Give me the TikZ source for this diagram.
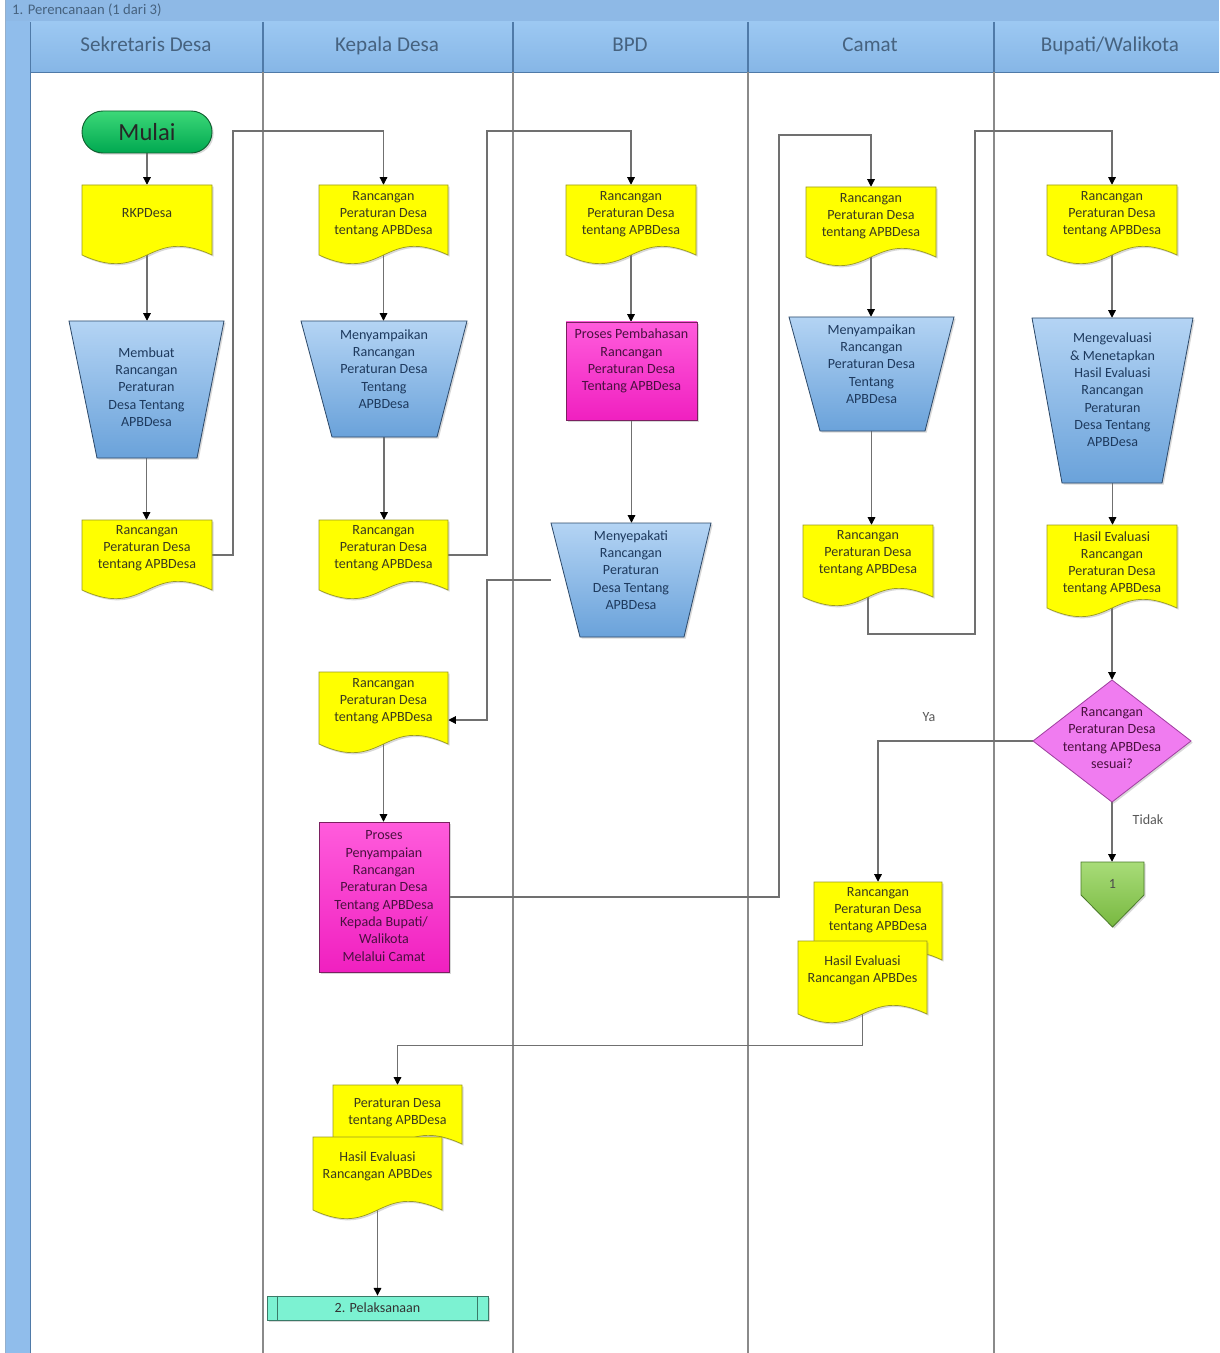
\documentclass[tikz,border=0pt]{standalone}
\usepackage{fontspec}
\setmainfont{Carlito}
\usetikzlibrary{arrows.meta,calc,fit,shadows}
\pgfdeclarelayer{back}
\pgfdeclarelayer{mid}
\pgfsetlayers{back,mid,main}
\definecolor{docyellow}{HTML}{FFFF00}
\definecolor{docedge}{HTML}{9A9A20}
\definecolor{doctext}{HTML}{3A3A20}
\definecolor{traptop}{HTML}{B4D4F4}
\definecolor{trapbot}{HTML}{6AA2DA}
\definecolor{trapedge}{HTML}{2E4A6A}
\definecolor{traptext}{HTML}{1E3A5E}
\definecolor{magtop}{HTML}{FF5CDC}
\definecolor{magbot}{HTML}{F020C0}
\definecolor{magedge}{HTML}{7A2060}
\definecolor{magtext}{HTML}{4A1040}
\definecolor{decfill}{HTML}{F07CF0}
\definecolor{decedge}{HTML}{A040A0}
\definecolor{gotop}{HTML}{3CD878}
\definecolor{gobot}{HTML}{00A850}
\definecolor{goedge}{HTML}{106030}
\definecolor{offtop}{HTML}{A8DC78}
\definecolor{offbot}{HTML}{78B840}
\definecolor{offedge}{HTML}{4A7A2A}
\definecolor{subfill}{HTML}{7CF2D2}
\definecolor{subedge}{HTML}{3A7A68}
\definecolor{linegray}{HTML}{707070}
\definecolor{lanegray}{HTML}{8A8A8A}
\definecolor{titleblue}{HTML}{8EB9E6}
\definecolor{stripblue}{HTML}{90BDEB}
\definecolor{hdrtop}{HTML}{9CC8F2}
\definecolor{hdrbot}{HTML}{86B6E6}
\definecolor{hdredge}{HTML}{4F7AA8}
\definecolor{hdrtext}{HTML}{46627F}
\tikzset{
  conn/.style={draw=linegray, line width=0.9pt},
  arr/.style={conn, -{Triangle[width=6.5pt,length=6.5pt,color=black]}},
  fitbox/.style={inner sep=0pt, draw=none},
  shade1/.style={drop shadow={shadow xshift=0.5mm, shadow yshift=-0.5mm, opacity=0.3}},
  docbox/.style={fill=docyellow, draw=docedge, line width=0.6pt, shade1},
  trapbox/.style={top color=traptop, bottom color=trapbot, draw=trapedge, line width=0.7pt, shade1},
  procbox/.style={top color=magtop, bottom color=magbot, draw=magedge, line width=0.7pt, shade1},
  decbox/.style={fill=decfill, draw=decedge, line width=0.7pt, shade1},
  offbox/.style={top color=offtop, bottom color=offbot, draw=offedge, line width=0.7pt, shade1},
  startbox/.style={top color=gotop, bottom color=gobot, draw=goedge, line width=0.8pt, shade1,
    minimum width=39mm, minimum height=12.6mm, rounded corners=6.3mm,
    font=\fontsize{21}{21}\selectfont, text=black!85},
  subbox/.style={fill=subfill, draw=subedge, line width=0.7pt, shade1,
    minimum width=66.3mm, minimum height=7.2mm, inner sep=0pt,
    font=\fontsize{12}{13}\selectfont, text=black!80},
  doctxt/.style={align=center, inner sep=0pt, text=doctext, font=\fontsize{12}{14.6}\selectfont},
  traptxt/.style={align=center, inner sep=0pt, text=traptext, font=\fontsize{12}{14.8}\selectfont},
  proctxt/.style={align=center, inner sep=0pt, text=magtext, font=\fontsize{12}{14.8}\selectfont},
  hdrtxt/.style={anchor=base, inner sep=0pt, text=hdrtext, font=\fontsize{18}{18}\selectfont},
  lbltxt/.style={text=black!65, font=\fontsize{12}{12}\selectfont, inner sep=0pt},
}
% #1 name, #2 x1, #3 y1, #4 x2, #5 y2 (lowest point), #6 text y, #7 text
\newcommand\DocShape[7]{%
  \path[docbox] (#2,#3) -- (#4,#3) -- (#4,#5-8)
    .. controls ({(#2+#4)/2},#5-38) and ({(#2+#4)/2},#5+22) .. (#2,#5-8) -- cycle;
  \node[fitbox, fit={(#2,#3) (#4,#5-8)}] (#1) {};
  \node[doctxt] (#1-t) at ({(#2+#4)/2},#6) {#7};
}
% #1 name, #2 xtl, #3 xtr, #4 yt, #5 xbl, #6 xbr, #7 yb, #8 text y, #9 text
\newcommand\TrapShape[9]{%
  \path[trapbox] (#2,#4) -- (#3,#4) -- (#6,#7) -- (#5,#7) -- cycle;
  \node[fitbox, fit={(#2,#4) (#3,#7)}] (#1) {};
  \node[traptxt] (#1-t) at ({(#2+#3)/2},#8) {#9};
}
% #1 name, #2 x1, #3 y1, #4 x2, #5 y2, #6 text y, #7 text
\newcommand\ProcShape[7]{%
  \path[procbox] (#2,#3) rectangle (#4,#5);
  \node[fitbox, fit={(#2,#3) (#4,#5)}] (#1) {};
  \node[proctxt] (#1-t) at ({(#2+#4)/2},#6) {#7};
}
\begin{document}
\begin{tikzpicture}[x=0.3mm,y=-0.3mm]
\useasboundingbox (0,0) rectangle (1219,1353);
\clip (0,0) rectangle (1219,1353);
% ---------- swimlane frame ----------
\begin{pgfonlayer}{back}
  \fill[white] (0,0) rectangle (1219,1353);
  \fill[titleblue] (5,0) rectangle (1219,21);
  \draw[hdredge!70, line width=0.8pt] (5,21) -- (1219,21);
  \fill[stripblue] (5,21) rectangle (30,1353);
  \draw[hdredge!60, line width=0.6pt] (5,0) -- (5,1353);
  \shade[top color=hdrtop, bottom color=hdrbot] (30,22) rectangle (1219,72);
  \draw[hdredge, line width=0.8pt] (30,72) -- (1219,72);
  \draw[hdredge, line width=0.8pt] (30,22) -- (30,1353);
  \foreach \lx in {263,513,748,994} {
    \draw[hdredge, line width=0.9pt] (\lx,22) -- (\lx,72);
    \draw[lanegray, line width=1.1pt] (\lx,72) -- (\lx,1353);
  }
  \node[anchor=base west, text=hdrtext, font=\fontsize{12.5}{13}\selectfont, inner sep=0pt]
    (title) at (12,15) {1. Perencanaan (1 dari 3)};
\end{pgfonlayer}
\node[hdrtxt] (h1) at (146,52) {Sekretaris Desa};
\node[hdrtxt] (h2) at (387,52) {Kepala Desa};
\node[hdrtxt] (h3) at (630,52) {BPD};
\node[hdrtxt] (h4) at (870,52) {Camat};
\node[hdrtxt] (h5) at (1110,52) {Bupati/Walikota};
% ---------- Sekretaris Desa ----------
\node[startbox] (mulai) at (147,132) {Mulai};
\DocShape{sd1}{82}{185}{212}{263}{213}{RKPDesa}
\TrapShape{sp1}{69}{224}{321}{97}{197}{458}{387}{Membuat\\Rancangan\\Peraturan\\Desa Tentang\\APBDesa}
\DocShape{sd2}{82}{520}{212}{598}{548}{Rancangan\\Peraturan Desa\\tentang APBDesa}
% ---------- Kepala Desa ----------
\DocShape{kd1}{319}{185}{448}{263}{214}{Rancangan\\Peraturan Desa\\tentang APBDesa}
\TrapShape{kp1}{301}{467}{321}{332}{437}{437}{369}{Menyampaikan\\Rancangan\\Peraturan Desa\\Tentang\\APBDesa}
\DocShape{kd2}{319}{520}{448}{598}{548}{Rancangan\\Peraturan Desa\\tentang APBDesa}
\DocShape{kd3}{319}{672}{448}{752}{701}{Rancangan\\Peraturan Desa\\tentang APBDesa}
\ProcShape{kp2}{319}{822}{449}{972}{896}{Proses\\Penyampaian\\Rancangan\\Peraturan Desa\\Tentang APBDesa\\Kepada Bupati/\\Walikota\\Melalui Camat}
\DocShape{kd4}{333}{1085}{462}{1152}{1113}{Peraturan Desa\\tentang APBDesa}
\DocShape{kd5}{313}{1137}{442}{1218}{1166}{Hasil Evaluasi\\Rancangan APBDes}
\node[subbox] (pel) at (377.5,1308) {2. Pelaksanaan};
\draw[subedge, line width=0.7pt] ($(pel.north west)+(11,0)$) -- ($(pel.south west)+(11,0)$)
  ($(pel.north east)+(-11,0)$) -- ($(pel.south east)+(-11,0)$);
% ---------- BPD ----------
\DocShape{bd1}{566}{185}{696}{263}{214}{Rancangan\\Peraturan Desa\\tentang APBDesa}
\ProcShape{bp1}{566}{322}{697}{420}{361}{Proses Pembahasan\\Rancangan\\Peraturan Desa\\Tentang APBDesa}
\TrapShape{bp2}{551}{711}{523}{580}{684}{637}{570}{Menyepakati\\Rancangan\\Peraturan\\Desa Tentang\\APBDesa}
% ---------- Camat ----------
\DocShape{cd1}{806}{187}{936}{265}{216}{Rancangan\\Peraturan Desa\\tentang APBDesa}
\TrapShape{cp1}{789}{954}{317}{820}{925}{431}{364}{Menyampaikan\\Rancangan\\Peraturan Desa\\Tentang\\APBDesa}
\DocShape{cd2}{803}{525}{933}{605}{553}{Rancangan\\Peraturan Desa\\tentang APBDesa}
\DocShape{cd3}{814}{882}{942}{968}{910}{Rancangan\\Peraturan Desa\\tentang APBDesa}
\DocShape{cd4}{798}{941}{927}{1022}{970}{Hasil Evaluasi\\Rancangan APBDes}
% ---------- Bupati/Walikota ----------
\DocShape{wd1}{1047}{185}{1177}{263}{214}{Rancangan\\Peraturan Desa\\tentang APBDesa}
\TrapShape{wp1}{1032}{1193}{318}{1062}{1162}{483}{390}{Mengevaluasi\\\& Menetapkan\\Hasil Evaluasi\\Rancangan\\Peraturan\\Desa Tentang\\APBDesa}
\DocShape{wd2}{1047}{525}{1177}{616}{563}{Hasil Evaluasi\\Rancangan\\Peraturan Desa\\tentang APBDesa}
\path[decbox] (1112,680) -- (1191,741) -- (1112,802) -- (1033,741) -- cycle;
\node[fitbox, fit={(1033,680) (1191,802)}] (wdec) {};
\node[doctxt, text=magtext] (wdec-t) at (1112,738) {Rancangan\\Peraturan Desa\\tentang APBDesa\\sesuai?};
\path[offbox] (1081,862) -- (1144,862) -- (1144,895) -- (1112.5,927) -- (1081,895) -- cycle;
\node[fitbox, fit={(1081,862) (1144,927)}] (woff) {};
\node[doctxt, text=black!70] (woff-t) at (1112.5,884) {1};
% ---------- connectors ----------
\begin{pgfonlayer}{mid}
  \draw[arr] (mulai.south) -- (mulai.south |- sd1.north);
  \draw[arr] (sd1.south) -- (sd1.south |- sp1.north);
  \draw[arr] (sp1.south) -- (sp1.south |- sd2.north);
  \draw[arr] (sd2.east) -| (233,131) -| (kd1.north);
  \draw[arr] (kd1.south) -- (kd1.south |- kp1.north);
  \draw[arr] (kp1.south) -- (kp1.south |- kd2.north);
  \draw[arr] (kd2.east) -| (487,131) -| (bd1.north);
  \draw[arr] (bd1.south) -- (bd1.south |- bp1.north);
  \draw[arr] (bp1.south) -- (bp1.south |- bp2.north);
  \draw[arr] (bp2.west) -| (487,720) -- ($(kd3.east)+(0,12)$);
  \draw[arr] (kd3.south) -- (kd3.south |- kp2.north);
  \draw[arr] (kp2.east) -| (779,135) -| (cd1.north);
  \draw[arr] (cd1.south) -- (cd1.south |- cp1.north);
  \draw[arr] (cp1.south) -- (cp1.south |- cd2.north);
  \draw[arr] (cd2.south) |- (975,634) -- (975,131) -| (wd1.north);
  \draw[arr] (wd1.south) -- (wd1.south |- wp1.north);
  \draw[arr] (wp1.south) -- (wp1.south |- wd2.north);
  \draw[arr] (wd2.south) -- (wd2.south |- wdec.north);
  \draw[arr] (wdec.west) -| (cd3.north);
  \draw[arr] (wdec.south) -- (wdec.south |- woff.north);
  \draw[arr] (cd4.south) -- ++(0,31) -| (kd4.north);
  \draw[arr] (kd5.south) -- (kd5.south |- pel.north);
\end{pgfonlayer}
\node[lbltxt] (ya) at (929,717) {Ya};
\node[lbltxt] (tidak) at (1148,820) {Tidak};
\end{tikzpicture}
\end{document}
